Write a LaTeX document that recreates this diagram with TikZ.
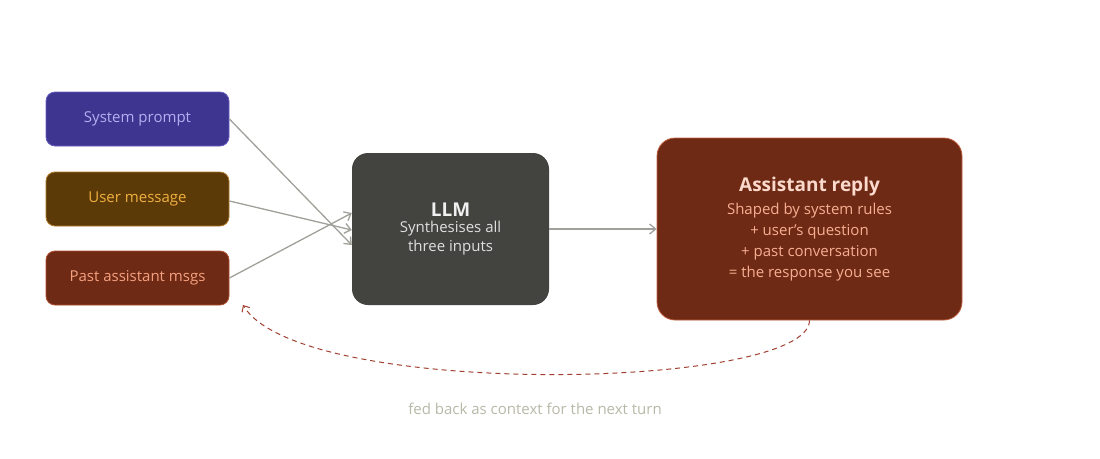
\documentclass[tikz,border=0pt]{standalone}
\usepackage{fontspec}
\setmainfont{Open Sans}
\usetikzlibrary{positioning,arrows.meta}

\definecolor{sysfill}{HTML}{3D3590}
\definecolor{sysline}{HTML}{6A5FC0}
\definecolor{systext}{HTML}{B6AEF0}
\definecolor{usrfill}{HTML}{5C3A08}
\definecolor{usrline}{HTML}{B07A2A}
\definecolor{usrtext}{HTML}{F0B040}
\definecolor{pastfill}{HTML}{6E2A14}
\definecolor{pastline}{HTML}{B05030}
\definecolor{pasttext}{HTML}{F5A080}
\definecolor{llmfill}{HTML}{434340}
\definecolor{arrowgray}{HTML}{A0A09A}
\definecolor{loopred}{HTML}{A04030}
\definecolor{notegray}{HTML}{B8B8A8}

\newcommand{\bigline}[2]{\textcolor{#1}{\fontsize{19}{24}\selectfont\bfseries #2}}
\newcommand{\smline}[2]{\textcolor{#1}{\fontsize{15}{18}\selectfont #2}}

\tikzset{
  inbox/.style={rounded corners=9pt, minimum width=183pt, minimum height=54pt,
    line width=0.8pt, font=\fontsize{15}{18}\selectfont},
  flow/.style={draw=arrowgray, line width=1.3pt, -{Straight Barb[length=6pt,width=10pt]}},
}

\begin{document}
\begin{tikzpicture}[x=1pt,y=-1pt]
\useasboundingbox (0,0) rectangle (1100,458);
% inputs
\node [inbox, fill=sysfill, draw=sysline, text=systext] (sys) at (137.5,119) {System prompt};
\node [inbox, fill=usrfill, draw=usrline, text=usrtext] (usr) at (137.5,199) {User message};
\node [inbox, fill=pastfill, draw=pastline, text=pasttext] (past) at (137.5,278) {Past assistant msgs};
% model
\node [rounded corners=16pt, fill=llmfill, minimum width=197pt, minimum height=152pt,
  align=center] (llm) at (450.5,229)
  {\bigline{white!88!gray}{LLM}\\[4pt]
   \smline{white!75!gray}{Synthesises all}\\[3pt]
   \smline{white!75!gray}{three inputs}};
% reply
\node [rounded corners=18pt, fill=pastfill, draw=pastline!80!pasttext, line width=0.8pt,
  minimum width=305pt, minimum height=182pt, align=center] (reply) at (809.5,229)
  {\bigline{pasttext!40!white}{Assistant reply}\\[6pt]
   \smline{pasttext!85!white}{Shaped by system rules}\\[5pt]
   \smline{pasttext!85!white}{+ user's question}\\[5pt]
   \smline{pasttext!85!white}{+ past conversation}\\[5pt]
   \smline{pasttext!85!white}{= the response you see}};
% arrows
\coordinate (in1) at ([yshift=-16pt]llm.west);
\coordinate (in2) at ([yshift=-1pt]llm.west);
\coordinate (in3) at ([yshift=16pt]llm.west);
\draw [flow] (sys.east) -- (in1);
\draw [flow] ([yshift=-2pt]usr.east) -- (in2);
\draw [flow] (past.east) -- (in3);
\draw [flow] (llm.east) -- (reply.west);
% feedback loop
\coordinate (back) at (243,305);
\draw [loopred, line width=1pt, dash pattern=on 5pt off 4pt, -{Straight Barb[length=5pt,width=9pt]}]
  (reply.south) .. controls (809,390) and (300,400) .. (back);
\node [text=notegray, font=\fontsize{15}{18}\selectfont] (note) at (535,409) {fed back as context for the next turn};
\end{tikzpicture}
\end{document}
